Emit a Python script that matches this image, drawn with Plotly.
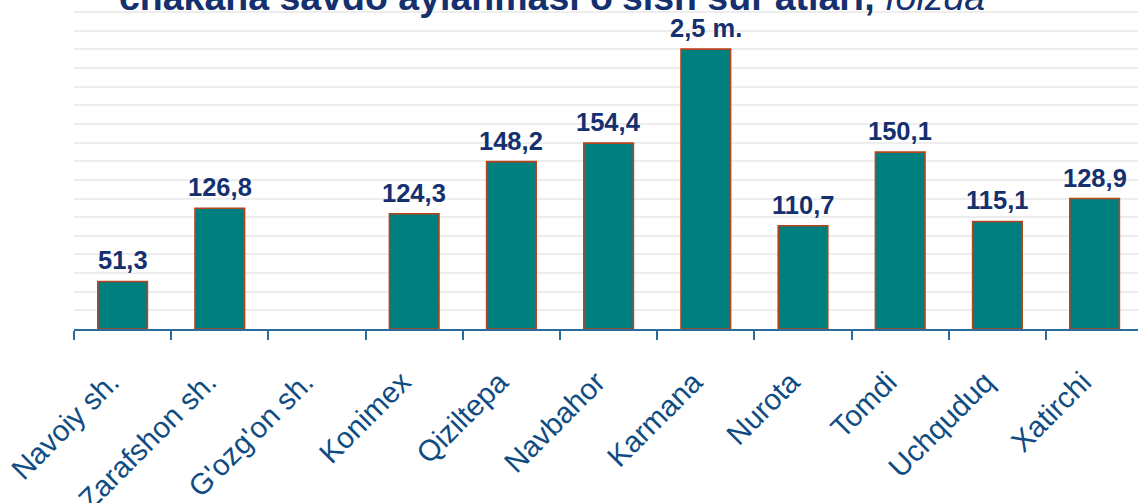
import plotly.graph_objects as go

categories = ["Navoiy sh.", "Zarafshon sh.", "G'ozg'on sh.", "Konimex", "Qiziltepa",
              "Navbahor", "Karmana", "Nurota", "Tomdi", "Uchquduq", "Xatirchi"]
# bar heights as drawn (grid units, gridline step = 10); G'ozg'on has no bar
bar_heights = [25.5, 64.8, None, 61.8, 89.8, 99.7, 150.1, 55.4, 94.9, 57.7, 70.0]
# value labels printed above the bars
value_labels = ["51,3", "126,8", "", "124,3", "148,2", "154,4", "2,5 m.", "110,7", "150,1", "115,1", "128,9"]
title_bold = "chakana savdo aylanmasi o'sish sur'atlari, "
title_italic = "foizda"

W, H = 1138, 503
left, right = 74, 0
top, bottom = 0, 173.7
cat_w = 97.2
x_hi = -0.5 + (W - left - right) / cat_w
plot_h = H - top - bottom
y_top = plot_h / 18.66 * 10

navy = "#14306E"
axis_blue = "#2A6C9A"

fig = go.Figure()
fig.add_trace(go.Bar(
    x=categories, y=bar_heights,
    marker=dict(color="#007F7F", line=dict(color="#B8431C", width=1.6)),
    width=0.51, hoverinfo="skip", showlegend=False,
))

for c, h, lab in zip(categories, bar_heights, value_labels):
    if lab and h is not None:
        fig.add_annotation(x=c, y=h, text="<b>" + lab + "</b>", showarrow=False,
                           yanchor="bottom", xanchor="center", yshift=5,
                           font=dict(family="Liberation Sans, Arial", size=25.5, color=navy))

fig.add_annotation(xref="paper", yref="paper", x=(552 - left) / (W - left), y=1 - 20 / plot_h,
                   xanchor="center", yanchor="bottom", showarrow=False,
                   text="<b>" + title_bold + "</b><i>" + title_italic + "</i>",
                   font=dict(family="Liberation Sans, Arial", size=37.5, color=navy))

fig.update_layout(
    width=W, height=H,
    margin=dict(l=left, r=right, t=top, b=bottom, pad=0, autoexpand=False),
    paper_bgcolor="white", plot_bgcolor="white",
    bargap=0.49,
    xaxis=dict(
        type="category", range=[-0.5, x_hi], automargin=False,
        showline=True, linecolor=axis_blue, linewidth=2,
        ticks="outside", tickson="boundaries", ticklen=9, tickwidth=2, tickcolor=axis_blue,
        tickangle=-45, ticklabelstandoff=22, ticklabelshift=-12,
        tickfont=dict(family="Liberation Sans, Arial", size=29.5, color="#0E4C82"),
        showgrid=False, fixedrange=True,
    ),
    yaxis=dict(
        range=[0, y_top], dtick=10, tick0=0, automargin=False,
        showgrid=True, gridcolor="#EDEDED", gridwidth=2,
        showticklabels=False, zeroline=False, showline=False, fixedrange=True,
    ),
)

fig.write_html("out.html", config={"displayModeBar": False},
               post_script="document.body.style.margin='0';")
